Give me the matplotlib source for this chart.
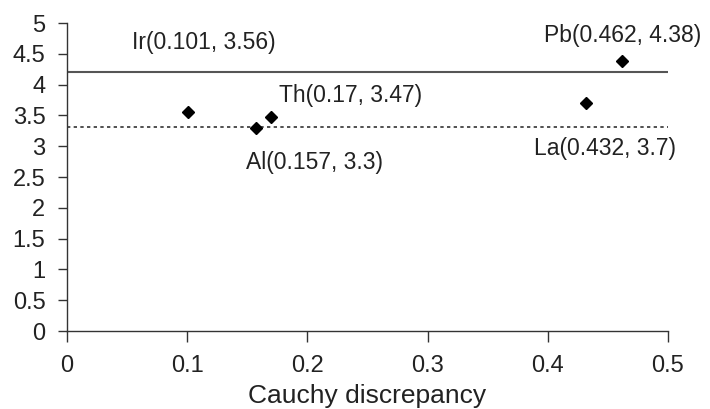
import matplotlib.pyplot as plt

plt.rcParams["font.family"] = ["Liberation Sans", "DejaVu Sans"]

elements = ["Ir", "Al", "Th", "La", "Pb"]
discrepancy = [0.101, 0.157, 0.17, 0.432, 0.462]
values = [3.56, 3.3, 3.47, 3.7, 4.38]
upper_line = 4.2
lower_line = 3.31

# where each label sits (data coords) and its alignment
label_pos = {
    "Ir": (0.054, 4.68, "left"),
    "Al": (0.149, 2.73, "left"),
    "Th": (0.176, 3.83, "left"),
    "La": (0.507, 2.97, "right"),
    "Pb": (0.528, 4.80, "right"),
}

fig = plt.figure(figsize=(7.1, 4.09), dpi=100)
ax = fig.add_axes([67 / 710, 1 - 331 / 409, 601 / 710, 308 / 409])

ax.axhline(upper_line, color="#555555", lw=1.5)
ax.axhline(lower_line, color="#333333", lw=1.2, ls=(0, (2, 2)))
ax.plot(discrepancy, values, "D", color="black", markersize=6, ls="none")

for name, x, y in zip(elements, discrepancy, values):
    lx, ly, ha = label_pos[name]
    ax.text(lx, ly, f"{name}({x:g}, {y:g})", ha=ha, va="center",
            fontsize=16.5, color="#222222", clip_on=False)

ax.set_xlim(0, 0.5)
ax.set_ylim(0, 5)
ax.set_xticks([0, 0.1, 0.2, 0.3, 0.4, 0.5])
ax.set_xticklabels(["0", "0.1", "0.2", "0.3", "0.4", "0.5"])
ax.set_yticks([0, 0.5, 1, 1.5, 2, 2.5, 3, 3.5, 4, 4.5, 5])
ax.set_yticklabels(["0", "0.5", "1", "1.5", "2", "2.5", "3", "3.5", "4", "4.5", "5"])
ax.tick_params(labelsize=17, width=1, color="#333333",
               labelcolor="#222222", direction="out")
ax.tick_params(axis="x", length=8, pad=9)
ax.tick_params(axis="y", length=6.5, pad=9)
ax.spines["top"].set_visible(False)
ax.spines["right"].set_visible(False)
for s in ["left", "bottom"]:
    ax.spines[s].set_color("#333333")
    ax.spines[s].set_linewidth(1)

ax.set_xlabel("Cauchy discrepancy", fontsize=19, color="#222222", labelpad=5)

fig.savefig("out.png", dpi=100)
